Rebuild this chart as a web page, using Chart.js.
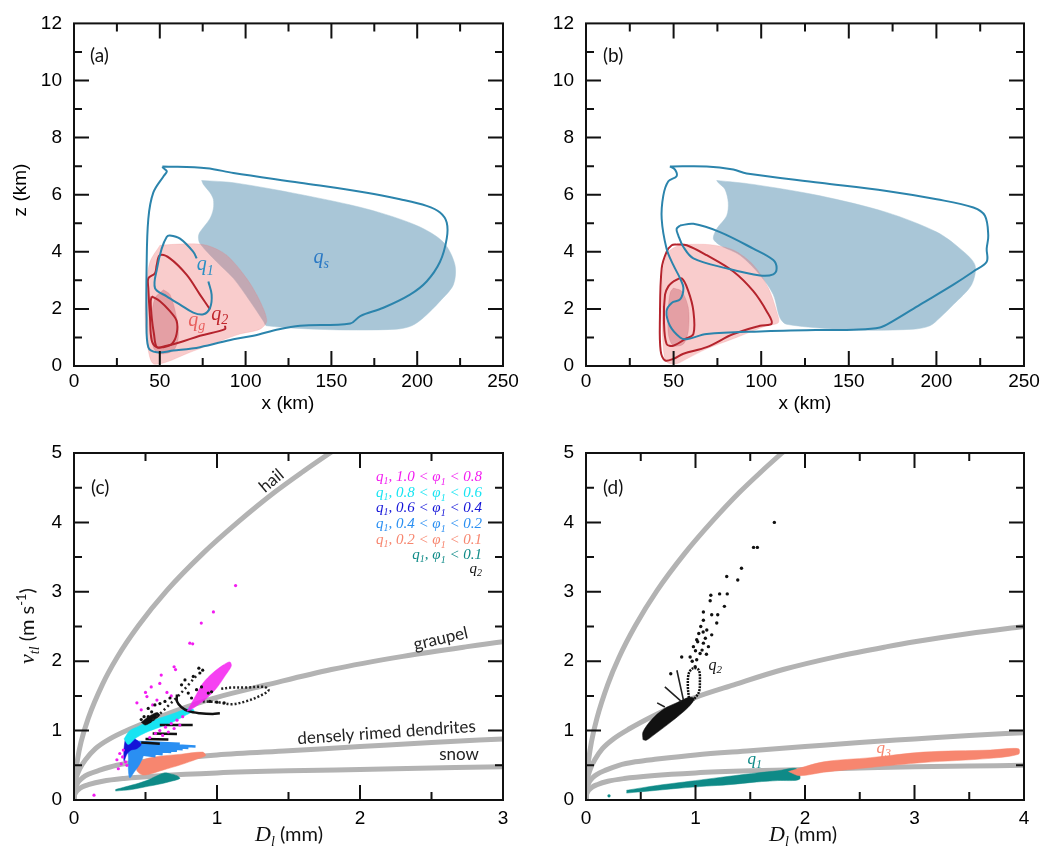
<!DOCTYPE html>
<html>
<head>
<meta charset="utf-8">
<script src="https://cdn.jsdelivr.net/npm/chart.js@4.4.1/dist/chart.umd.min.js"></script>
<style>
  body { margin: 0; background: #fff; }
  #wrap { position: relative; width: 1062px; height: 846px; }
  #wrap canvas { position: absolute; left: 0; top: 0; }
</style>
</head>
<body>
<div id="wrap">
  <canvas id="panelA" width="1062" height="846"></canvas>
  <canvas id="panelB" width="1062" height="846"></canvas>
  <canvas id="panelC" width="1062" height="846"></canvas>
  <canvas id="panelD" width="1062" height="846"></canvas>
</div>
<script>
// ---- fall speed relations (D in mm, v in m/s) (c) and (d)
const hailD = [0, 0.003, 0.01, 0.025, 0.05, 0.1, 0.2, 0.3, 0.45, 0.65, 0.9, 1.15, 1.4, 1.6, 1.79, 2.0];
const hailV = [0, 0.2, 0.37, 0.59, 0.84, 1.18, 1.67, 2.05, 2.51, 3.02, 3.55, 4.01, 4.43, 4.73, 5.0, 5.29];
const graupelD = [0, 0.003, 0.01, 0.02, 0.04, 0.08, 0.15, 0.25, 0.4, 0.6, 0.8, 1.0, 1.35, 1.8, 2.3, 2.75, 3.0, 3.5, 4.0];
const graupelV = [0, 0.17, 0.27, 0.35, 0.45, 0.58, 0.74, 0.88, 1.03, 1.2, 1.35, 1.48, 1.66, 1.88, 2.07, 2.21, 2.28, 2.4, 2.5];
const rimedD = [0, 0.003, 0.01, 0.03, 0.06, 0.1, 0.18, 0.3, 0.45, 0.65, 1.0, 1.5, 2.0, 2.5, 3.0, 3.5, 4.0];
const rimedV = [0, 0.1, 0.17, 0.26, 0.32, 0.37, 0.43, 0.5, 0.55, 0.59, 0.65, 0.71, 0.77, 0.83, 0.88, 0.93, 0.97];
const snowD = [0, 0.003, 0.01, 0.03, 0.06, 0.1, 0.2, 0.35, 0.6, 1.0, 1.5, 2.0, 2.5, 3.0, 3.5, 4.0];
const snowV = [0, 0.06, 0.1, 0.15, 0.19, 0.22, 0.27, 0.31, 0.35, 0.39, 0.42, 0.44, 0.46, 0.48, 0.49, 0.5];

// ---- panel (a): [x km, z km]
const aSnowFill = [[74.4,6.5],[92.9,6.42],[131.7,6.01],[170.6,5.5],[199.7,4.92],[215.2,4.34],[222,3.54],[221.1,2.85],[213.3,2.27],[203.6,1.69],[196.8,1.41],[188,1.29],[151,1.27],[112.3,1.41],[110.3,1.58],[102.6,2.27],[92.9,3.07],[83.1,3.65],[73.4,4.29],[72.5,4.52],[73.4,4.69],[79.1,5.15],[81.2,5.5],[81.2,5.84],[79.3,6.07],[75.4,6.36],[74.4,6.5]];
const aGraupelFill = [[50.1,4.23],[65.7,4.28],[77.3,4.23],[89,3.88],[100.6,3.07],[108.4,2.27],[112.3,1.58],[108.4,1.29],[96.7,1.12],[83.1,0.83],[65.7,0.43],[54,0.14],[46.2,0.08],[43.3,0.54],[41.4,1.69],[42.3,2.85],[44.3,3.65],[50.1,4.23]];
const aGraupelCore = [[52.1,2.67],[56,2.5],[59.8,1.69],[60.8,1.0],[57.9,0.54],[50.1,0.43],[46.2,0.66],[45.3,1.69],[47.2,2.38],[52.1,2.67]];
const aOuterLine = [[51.5,6.99],[77.3,6.93],[92.9,6.76],[131.7,6.42],[170.6,6.07],[190,5.84],[205.5,5.61],[213.3,5.38],[217.2,5.03],[217.2,4.46],[213.3,3.65],[205.5,2.96],[195.8,2.5],[180.3,2.04],[166.8,1.75],[161,1.49],[131.7,1.41],[119.5,1.29],[104.5,1.06],[92.9,0.94],[73.4,0.66],[57.9,0.54],[48.2,0.48],[43.3,0.66],[42.3,1.69],[42.3,3.42],[43.3,5.15],[46.2,6.07],[52.1,6.64],[54.1,6.82],[52.1,6.93],[51.5,6.99]];
const aQ1Line = [[71.5,3.77],[69.5,4.0],[61.8,4.46],[55.9,4.57],[54,4.52],[51.1,4.11],[48.4,3.42],[47.2,2.73],[54,2.44],[61.8,2.15],[69.5,1.87],[75.4,1.81],[79.3,2.04],[80.2,2.5],[78.3,2.96]];
const aQ2Line = [[79.3,1.98],[73.4,2.5],[65.7,3.19],[55.9,3.77],[50.1,3.88],[48.2,3.54],[47.2,3.25],[43.3,3.07],[43.3,2.73],[44.3,1.69],[45.3,0.89],[48.2,0.66],[54,0.71],[61.8,0.83],[73.4,1.06],[88,1.29],[88,1.41]];
const aQ2Inner = [[45.3,2.44],[50.1,2.27],[55.9,1.92],[59.8,1.58],[59.8,1.12],[57,0.77],[52.1,0.66],[48.2,0.66],[46.6,1.12],[45.3,1.69],[44.7,2.27],[45.3,2.44]];

// ---- panel (b)
const bSnowFill = [[74.6,6.5],[95.5,6.36],[133.6,5.96],[171.6,5.38],[200.2,4.69],[213.5,4.11],[222,3.54],[220.1,2.85],[209.7,2.15],[202,1.69],[196.3,1.41],[186.8,1.29],[152.6,1.26],[114.5,1.46],[110.7,1.69],[106.9,2.5],[99.3,3.19],[87.9,3.88],[76.5,4.23],[72.7,4.46],[74.6,4.8],[80.3,5.26],[81.2,5.73],[79.3,6.19],[75.5,6.42],[74.6,6.5]];
const bGraupelFill = [[53.7,4.26],[70.8,4.25],[84.1,4.06],[95.5,3.54],[104.1,2.73],[108.8,1.92],[109.8,1.52],[103.1,1.41],[86,1.0],[68.9,0.6],[57.5,0.25],[51.8,0.08],[46,0.14],[44.1,0.66],[43.2,2.27],[44.1,3.42],[47,4.0],[53.7,4.26]];
const bGraupelCore = [[49.8,2.73],[54.6,2.62],[58.4,2.04],[58.4,1.23],[55.6,0.77],[49.8,0.71],[47,1.12],[47,2.04],[48,2.56],[49.8,2.73]];
const bOuterLine = [[47.9,6.99],[68.9,6.99],[84.1,6.88],[91.7,6.74],[133.6,6.42],[171.6,6.13],[200.2,5.84],[221.1,5.55],[227.7,5.26],[229.6,4.57],[228.7,4.11],[228.7,3.65],[221.1,3.31],[209.7,2.85],[190.7,2.15],[175.4,1.58],[167.8,1.35],[152.6,1.27],[133.6,1.26],[99.3,1.21],[68.9,1.12],[57.5,0.94],[53.7,1.0],[47.9,1.41],[46,1.92],[48.9,2.21],[53.7,2.33],[55.6,2.73],[53.7,3.07],[49.8,3.54],[46,4.11],[43.2,5.15],[44.1,5.96],[47,6.47],[51.7,6.65],[50.8,6.88],[47.9,6.99]];
const bQ1Line = [[53.7,4.92],[61.3,4.98],[76.5,4.69],[95.5,4.11],[106.9,3.71],[108.8,3.42],[106.9,3.21],[99.3,3.17],[80.3,3.42],[61.3,3.77],[55.6,4.17],[52.7,4.57],[51.7,4.8],[53.7,4.92]];
const bQ2Line = [[51.8,4.26],[57.5,4.23],[68.9,3.88],[84.1,3.31],[95.5,2.62],[103.1,1.92],[106,1.49],[99.3,1.41],[84.1,1.12],[68.9,0.66],[55.6,0.43],[49.8,0.25],[45.1,0.2],[42.6,0.54],[42.2,1.69],[43.2,3.42],[46,4.0],[48.9,4.23],[51.8,4.26]];
const bQ2Inner = [[49.8,2.96],[54.6,3.07],[58.4,2.62],[61.3,1.92],[61.3,1.12],[56.5,0.94],[49.8,0.71],[46,0.77],[44.5,1.58],[45.1,2.5],[47,2.79],[49.8,2.96]];

// ---- panel (c): [D mm, v m/s]
const cTeal = [[0.29,0.15],[0.36,0.19],[0.45,0.24],[0.52,0.29],[0.58,0.35],[0.63,0.39],[0.67,0.38],[0.72,0.35],[0.74,0.31],[0.68,0.27],[0.6,0.23],[0.5,0.19],[0.4,0.15],[0.29,0.13]];
const cSalmon = [[0.44,0.52],[0.5,0.59],[0.6,0.63],[0.75,0.66],[0.9,0.69],[0.92,0.64],[0.86,0.59],[0.75,0.51],[0.62,0.43],[0.54,0.38],[0.48,0.36],[0.44,0.42],[0.44,0.52]];
const cDodger = [[0.37,0.84],[0.41,0.87],[0.47,0.82],[0.49,0.68],[0.46,0.52],[0.42,0.4],[0.39,0.32],[0.38,0.44],[0.38,0.62],[0.37,0.84]];
const cDodgerRays = [[0.42,0.82],[0.85,0.77],null,[0.43,0.8],[0.8,0.75],null,[0.44,0.77],[0.76,0.73],null,[0.45,0.74],[0.72,0.71],null,[0.46,0.72],[0.68,0.69],null,[0.46,0.69],[0.62,0.66],null,[0.46,0.66],[0.57,0.63],null,[0.42,0.84],[0.74,0.81]];
const cBlue = [[0.36,0.9],[0.4,0.92],[0.44,0.86],[0.47,0.8],[0.44,0.74],[0.4,0.72],[0.37,0.66],[0.35,0.56],[0.35,0.75],[0.36,0.9]];
const cCyan = [[0.35,0.88],[0.39,1.0],[0.45,1.06],[0.5,1.11],[0.6,1.18],[0.7,1.25],[0.8,1.32],[0.84,1.29],[0.78,1.22],[0.7,1.13],[0.6,1.05],[0.5,0.97],[0.43,0.89],[0.38,0.8],[0.35,0.88]];
const cMagentaFan = [[0.79,1.28],[0.85,1.5],[0.9,1.68],[0.97,1.83],[1.04,1.94],[1.09,1.99],[1.1,1.93],[1.06,1.8],[1.0,1.62],[0.93,1.47],[0.86,1.36],[0.81,1.29],[0.79,1.28]];
const cMagentaDots = [[1.13,3.09],[0.975,2.71],[0.89,2.55],[0.81,2.26],[0.83,2.25],[0.7,1.92],[0.71,1.88],[0.61,1.8],[0.6,1.68],[0.54,1.63],[0.51,1.49],[0.58,1.44],[0.65,1.55],[0.68,1.5],[0.55,1.37],[0.47,1.3],[0.3,0.58],[0.32,0.67],[0.345,0.72],[0.31,0.45],[0.33,0.52],[0.36,0.55],[0.34,0.62],[0.37,0.5],[0.6,1.0],[0.64,1.05],[0.68,1.1],[0.72,1.15],[0.66,0.98],[0.7,1.03],[0.74,1.08],[0.62,0.93],[0.57,0.96],[0.53,0.9],[0.76,1.2],[0.5,1.55],[0.44,1.4],[0.14,0.07]];
const cBlackDots = [[0.519,1.32],[0.543,1.27],[0.566,1.37],[0.601,1.39],[0.636,1.42],[0.671,1.47],[0.752,1.66],[0.776,1.73],[0.834,1.78],[0.88,1.83],[0.9,1.87],[0.873,1.9],[0.892,1.63],[0.939,1.54],[0.962,1.56],[0.519,1.2],[0.531,1.13],[0.799,1.54],[0.822,1.47],[0.857,1.59],[0.47,1.16],[0.49,1.2],[0.95,1.42],[1.0,1.41],[1.05,1.4]];
const cBlackArc = [[0.72,1.52],[0.72,1.42],[0.75,1.34],[0.8,1.28],[0.88,1.25],[0.97,1.24],[1.02,1.25]];
const cBlackLoop = [[0.9,1.42],[1.0,1.41],[1.1,1.38],[1.2,1.42],[1.3,1.5],[1.36,1.58],[1.33,1.63],[1.2,1.62],[1.1,1.62],[1.02,1.6]];
const cBlackDiag = [[0.55,1.15],[0.6,1.24],[0.66,1.36],[0.73,1.5],[0.8,1.66],[0.86,1.8]];
const cBlackRays = [[0.6,1.08],[0.83,1.08],null,[0.55,0.96],[0.72,0.95],null,[0.5,0.88],[0.66,0.87],null,[0.47,0.83],[0.6,0.81]];
const cBlackPatch = [[0.47,1.12],[0.52,1.2],[0.58,1.26],[0.6,1.22],[0.55,1.14],[0.5,1.08],[0.47,1.12]];

// ---- panel (d)
const dTeal = [[0.37,0.14],[0.65,0.21],[0.9,0.26],[1.1,0.3],[1.35,0.35],[1.56,0.39],[1.75,0.42],[1.92,0.45],[1.95,0.3],[1.75,0.28],[1.56,0.26],[1.3,0.22],[1.1,0.2],[0.85,0.17],[0.65,0.14],[0.37,0.1]];
const dSalmon = [[1.85,0.41],[2.17,0.55],[2.6,0.61],[3.08,0.69],[3.69,0.72],[3.95,0.74],[3.95,0.66],[3.69,0.6],[3.08,0.54],[2.6,0.47],[2.17,0.4],[1.95,0.35],[1.85,0.41]];
const dBlackBlob = [[0.52,0.87],[0.52,0.98],[0.6,1.16],[0.71,1.31],[0.83,1.4],[0.94,1.48],[0.99,1.46],[0.93,1.33],[0.78,1.13],[0.63,0.95],[0.55,0.86],[0.52,0.87]];
const dBlackLoop = [[0.94,1.47],[0.93,1.65],[0.94,1.83],[0.98,1.9],[1.03,1.87],[1.04,1.7],[1.03,1.55],[0.98,1.44]];
const dBlackSpikes = [[0.72,1.63],[0.87,1.42],null,[0.83,1.87],[0.89,1.44],null,[0.65,1.4],[0.72,1.34]];
const dBlackDots = [[1.72,4.0],[1.53,3.64],[1.565,3.64],[1.42,3.34],[1.285,3.22],[1.386,3.17],[1.14,2.95],[1.22,2.97],[1.29,2.97],[1.134,2.87],[1.264,2.79],[1.072,2.71],[1.148,2.67],[1.203,2.67],[1.194,2.55],[1.072,2.59],[1.048,2.5],[1.103,2.45],[1.148,2.38],[1.011,2.31],[1.072,2.26],[1.118,2.21],[0.981,2.21],[1.042,2.11],[0.874,2.06],[0.774,1.82],[0.951,2.06],[1.011,2.02],[0.997,1.92],[1.09,2.33],[1.03,2.4],[1.06,2.16],[1.1,2.1],[0.97,2.0],[1.02,2.28],[1.07,2.42],[1.0,2.15]];
const dTealDot = [[0.21,0.06]];

// ---- ticks
const kmMajor = [50, 100, 150, 200], kmMinor = [25, 75, 125, 175, 225];
const zMajor = [2, 4, 6, 8, 10], zMinor = [1, 3, 5, 7, 9, 11];
const vMajor = [1, 2, 3, 4], vMinor = [0.5, 1.5, 2.5, 3.5, 4.5];

// colours
const BLUE_LINE = '#2b84ac', RED_LINE = '#b5242d';
const GRAY = '#b3b3b3';
const MAGENTA = '#f21cf0', CYAN = '#18e4f2', DKBLUE = '#1414d8', DODGER = '#2a8ff2', SALMON = '#f7866f', TEAL = '#0e8a87';

function pts(list) {
    return list.map(p => p ? {x: p[0], y: p[1]} : {x: null, y: null});
}
function zip(xs, ys) {
    return xs.map((v, i) => ({x: v, y: ys[i]}));
}
function line(data, color, width, order, tension, dash) {
    return {data: pts(data), showLine: true, borderColor: color, borderWidth: width, pointRadius: 0,
            tension: tension === undefined ? 0.35 : tension, fill: false, order: order, borderDash: dash || []};
}
function area(data, color, order) {
    return {data: pts(data), showLine: true, borderWidth: 0.5, borderColor: color, backgroundColor: color,
            pointRadius: 0, tension: 0.3, fill: 'shape', order: order};
}
function dots(data, color, r, order) {
    return {data: pts(data), showLine: false, pointRadius: r, pointBackgroundColor: color,
            pointBorderWidth: 0, order: order};
}
function curve(xs, ys) {
    return {data: zip(xs, ys), showLine: true, borderColor: GRAY, borderWidth: 5, pointRadius: 0,
            cubicInterpolationMode: 'monotone', fill: false, order: 50};
}

const serifI = s => 'italic ' + s + 'px "Liberation Serif"';
const sans = s => s + 'px Lato';
function qSym(sub, size, color) {
    return [{t: 'q', f: serifI(size), c: color}, {t: sub, f: serifI(Math.round(size * 0.68)), c: color, dy: size * 0.22}];
}
function legendLine(a, b, color) {
    return qSym('1', 15, color).concat([{t: ', ' + a, f: serifI(15), c: color}, {t: 'φ', f: serifI(15), c: color},
        {t: '1', f: serifI(10), c: color, dy: 3.5}, {t: b, f: serifI(15), c: color}]);
}

function drawRich(ctx, segs, x, y, align) {
    let w = 0;
    segs.forEach(s => { ctx.font = s.f; s.w = ctx.measureText(s.t).width; w += s.w; });
    let cx = align === 'right' ? x - w : align === 'center' ? x - w / 2 : x;
    segs.forEach(s => {
        ctx.font = s.f;
        ctx.fillStyle = s.c || '#111';
        ctx.fillText(s.t, cx, y + (s.dy || 0));
        cx += s.w;
    });
}

// frame with inward ticks on all four sides
const framePlugin = {
    id: 'frame',
    afterDraw(chart, args, o) {
        const {ctx, chartArea: a, scales: {x, y}} = chart;
        ctx.save();
        ctx.strokeStyle = '#111';
        ctx.lineWidth = 2;
        ctx.strokeRect(a.left, a.top, a.right - a.left, a.bottom - a.top);
        ctx.beginPath();
        const xt = (vals, len) => vals.forEach(v => {
            const px = x.getPixelForValue(v);
            ctx.moveTo(px, a.bottom); ctx.lineTo(px, a.bottom - len);
            ctx.moveTo(px, a.top); ctx.lineTo(px, a.top + len);
        });
        const yt = (vals, len) => vals.forEach(v => {
            const py = y.getPixelForValue(v);
            ctx.moveTo(a.left, py); ctx.lineTo(a.left + len, py);
            ctx.moveTo(a.right, py); ctx.lineTo(a.right - len, py);
        });
        xt(o.xMajor, 15); xt(o.xMinor, 8);
        yt(o.yMajor, 15); yt(o.yMinor, 8);
        ctx.stroke();
        ctx.restore();
    }
};

// labels: {segs, x, y, data(bool), rot, align}
const notesPlugin = {
    id: 'notes',
    afterDraw(chart, args, o) {
        const {ctx, scales: {x, y}} = chart;
        ctx.save();
        ctx.textBaseline = 'alphabetic';
        (o.items || []).forEach(it => {
            const px = it.data ? x.getPixelForValue(it.x) : it.x;
            const py = it.data ? y.getPixelForValue(it.y) : it.y;
            ctx.save();
            ctx.translate(px, py);
            ctx.rotate((it.rot || 0) * Math.PI / 180);
            drawRich(ctx, it.segs, 0, 0, it.align || 'center');
            ctx.restore();
        });
        ctx.restore();
    }
};

function scales(xMax, xStep, yMax, yStep, xPad) {
    const tickFont = {family: '"Liberation Sans", Arial, sans-serif', size: 19};
    return {
        x: {type: 'linear', min: 0, max: xMax, grid: {display: false, drawTicks: false}, border: {display: false},
            ticks: {stepSize: xStep, maxRotation: 0, autoSkip: false, padding: xPad, font: tickFont, color: '#000'},
            afterFit(s) { s.height = 40; }},
        y: {type: 'linear', min: 0, max: yMax, grid: {display: false, drawTicks: false}, border: {display: false},
            ticks: {stepSize: yStep, autoSkip: false, padding: 12, font: tickFont, color: '#000'},
            afterFit(s) { s.width = 74; }}
    };
}

function makePanel(id, datasets, sc, padding, frame, notes) {
    return new Chart(document.getElementById(id), {
        type: 'scatter',
        data: {datasets: datasets},
        options: {
            responsive: false,
            animation: false,
            devicePixelRatio: 1,
            events: [],
            layout: {padding: padding},
            scales: sc,
            plugins: {legend: {display: false}, tooltip: {enabled: false}, frame: frame, notes: {items: notes}}
        },
        plugins: [framePlugin, notesPlugin]
    });
}

const SNOW_FILL = '#a9c6d7', GRAUPEL_FILL = 'rgba(240,118,118,0.37)', CORE_FILL = 'rgba(185,70,85,0.33)';
const kmFrame = {xMajor: kmMajor, xMinor: kmMinor, yMajor: zMajor, yMinor: zMinor};
const vFrameC = {xMajor: [1, 2], xMinor: [0.5, 1.5, 2.5], yMajor: vMajor, yMinor: vMinor};
const vFrameD = {xMajor: [1, 2, 3], xMinor: [0.5, 1.5, 2.5, 3.5], yMajor: vMajor, yMinor: vMinor};
const kmTitle = x => ({segs: [{t: 'x (km)', f: '19px "Liberation Sans"', c: '#000'}], x: x, y: 409});
const dTitle = x => ({segs: [{t: 'D', f: serifI(22)}, {t: 'l', f: serifI(14), dy: 5}, {t: ' (mm)', f: sans(20)}], x: x, y: 841});

// (a)
makePanel('panelA', [
    line(aOuterLine, BLUE_LINE, 2, 1),
    line(aQ1Line, BLUE_LINE, 2, 1),
    line(aQ2Line, RED_LINE, 2, 1),
    line(aQ2Inner, RED_LINE, 2, 1),
    area(aGraupelCore, CORE_FILL, 8),
    area(aGraupelFill, GRAUPEL_FILL, 9),
    area(aSnowFill, SNOW_FILL, 10)
], scales(250, 50, 12, 2, 4), {left: 0, right: 559, top: 18.5, bottom: 440}, kmFrame, [
    {segs: [{t: '(a)', f: sans(19)}], x: 90, y: 62, align: 'left'},
    kmTitle(288),
    {segs: [{t: 'z (km)', f: '19px "Liberation Sans"', c: '#000'}], x: 26, y: 190, rot: -90},
    {segs: qSym('s', 20, '#2a78c4'), x: 144, y: 3.6, data: true},
    {segs: qSym('1', 20, '#2a8fc4'), x: 76.5, y: 3.35, data: true},
    {segs: qSym('g', 20, '#e8605e'), x: 71.5, y: 1.4, data: true},
    {segs: qSym('2', 20, '#c0262c'), x: 85, y: 1.62, data: true}
]);

// (b)
makePanel('panelB', [
    line(bOuterLine, BLUE_LINE, 2, 1),
    line(bQ1Line, BLUE_LINE, 2, 1),
    line(bQ2Line, RED_LINE, 2, 1),
    line(bQ2Inner, RED_LINE, 2, 1),
    area(bGraupelCore, CORE_FILL, 8),
    area(bGraupelFill, GRAUPEL_FILL, 9),
    area(bSnowFill, SNOW_FILL, 10)
], scales(250, 50, 12, 2, 4), {left: 512, right: 38, top: 18.5, bottom: 440}, kmFrame, [
    {segs: [{t: '(b)', f: sans(19)}], x: 603, y: 62, align: 'left'},
    kmTitle(805)
]);

// (c)
const grayCurves = [curve(hailD, hailV), curve(graupelD, graupelV), curve(rimedD, rimedV), curve(snowD, snowV)];
makePanel('panelC', grayCurves.concat([
    area(cTeal, TEAL, 20),
    area(cSalmon, SALMON, 19),
    area(cDodger, DODGER, 18),
    line(cDodgerRays, DODGER, 2.5, 18, 0),
    area(cBlue, DKBLUE, 17),
    area(cCyan, CYAN, 16),
    line(cBlackRays, '#111', 2.5, 15, 0),
    area(cBlackPatch, '#111', 15),
    line(cBlackArc, '#111', 2.5, 14),
    line(cBlackLoop, '#222', 2.5, 14, 0.35, [2, 2]),
    line(cBlackDiag, '#222', 2.5, 14, 0.35, [2, 3]),
    area(cMagentaFan, 'rgba(245,30,240,0.85)', 13),
    dots(cMagentaDots, MAGENTA, 1.6, 12),
    dots(cBlackDots, '#111', 1.6, 11)
]), scales(3, 1, 5, 1, 7), {left: 0, right: 559, top: 453, bottom: 6}, vFrameC, [
    {segs: [{t: '(c)', f: sans(19)}], x: 91, y: 494, align: 'left'},
    dTitle(289),
    {segs: [{t: 'v', f: serifI(22)}, {t: 'tl', f: serifI(14), dy: 5}, {t: ' (m s', f: sans(20)},
            {t: '-1', f: sans(13), dy: -8}, {t: ')', f: sans(20)}], x: 34, y: 626, rot: -90},
    {segs: [{t: 'hail', f: sans(17), c: '#222'}], x: 275, y: 485, rot: -40},
    {segs: [{t: 'graupel', f: sans(17), c: '#222'}], x: 442, y: 644, rot: -13},
    {segs: [{t: 'densely rimed dendrites', f: sans(17), c: '#222'}], x: 387, y: 738, rot: -4},
    {segs: [{t: 'snow', f: sans(17), c: '#222'}], x: 459, y: 760},
    {segs: legendLine('1.0 < ', ' < 0.8', MAGENTA), x: 482, y: 481, align: 'right'},
    {segs: legendLine('0.8 < ', ' < 0.6', CYAN), x: 482, y: 497, align: 'right'},
    {segs: legendLine('0.6 < ', ' < 0.4', DKBLUE), x: 482, y: 512, align: 'right'},
    {segs: legendLine('0.4 < ', ' < 0.2', DODGER), x: 482, y: 528, align: 'right'},
    {segs: legendLine('0.2 < ', ' < 0.1', SALMON), x: 482, y: 544, align: 'right'},
    {segs: legendLine('', ' < 0.1', TEAL), x: 482, y: 559, align: 'right'},
    {segs: qSym('2', 15, '#111'), x: 482, y: 573, align: 'right'}
]);

// (d)
const grayCurvesD = [curve(hailD, hailV), curve(graupelD, graupelV), curve(rimedD, rimedV), curve(snowD, snowV)];
makePanel('panelD', grayCurvesD.concat([
    area(dTeal, TEAL, 20),
    area(dSalmon, SALMON, 19),
    area(dBlackBlob, '#111', 15),
    line(dBlackLoop, '#111', 2.5, 14, 0.35, [2, 1]),
    line(dBlackSpikes, '#222', 1.6, 14, 0),
    dots(dBlackDots, '#111', 1.7, 11),
    dots(dTealDot, TEAL, 1.6, 11)
]), scales(4, 1, 5, 1, 7), {left: 512, right: 38, top: 453, bottom: 6}, vFrameD, [
    {segs: [{t: '(d)', f: sans(19)}], x: 603, y: 494, align: 'left'},
    dTitle(803),
    {segs: qSym('2', 16, '#111'), x: 1.18, y: 1.88, data: true},
    {segs: qSym('1', 17, TEAL), x: 1.54, y: 0.52, data: true},
    {segs: qSym('3', 17, SALMON), x: 2.72, y: 0.68, data: true}
]);
</script>
</body>
</html>
